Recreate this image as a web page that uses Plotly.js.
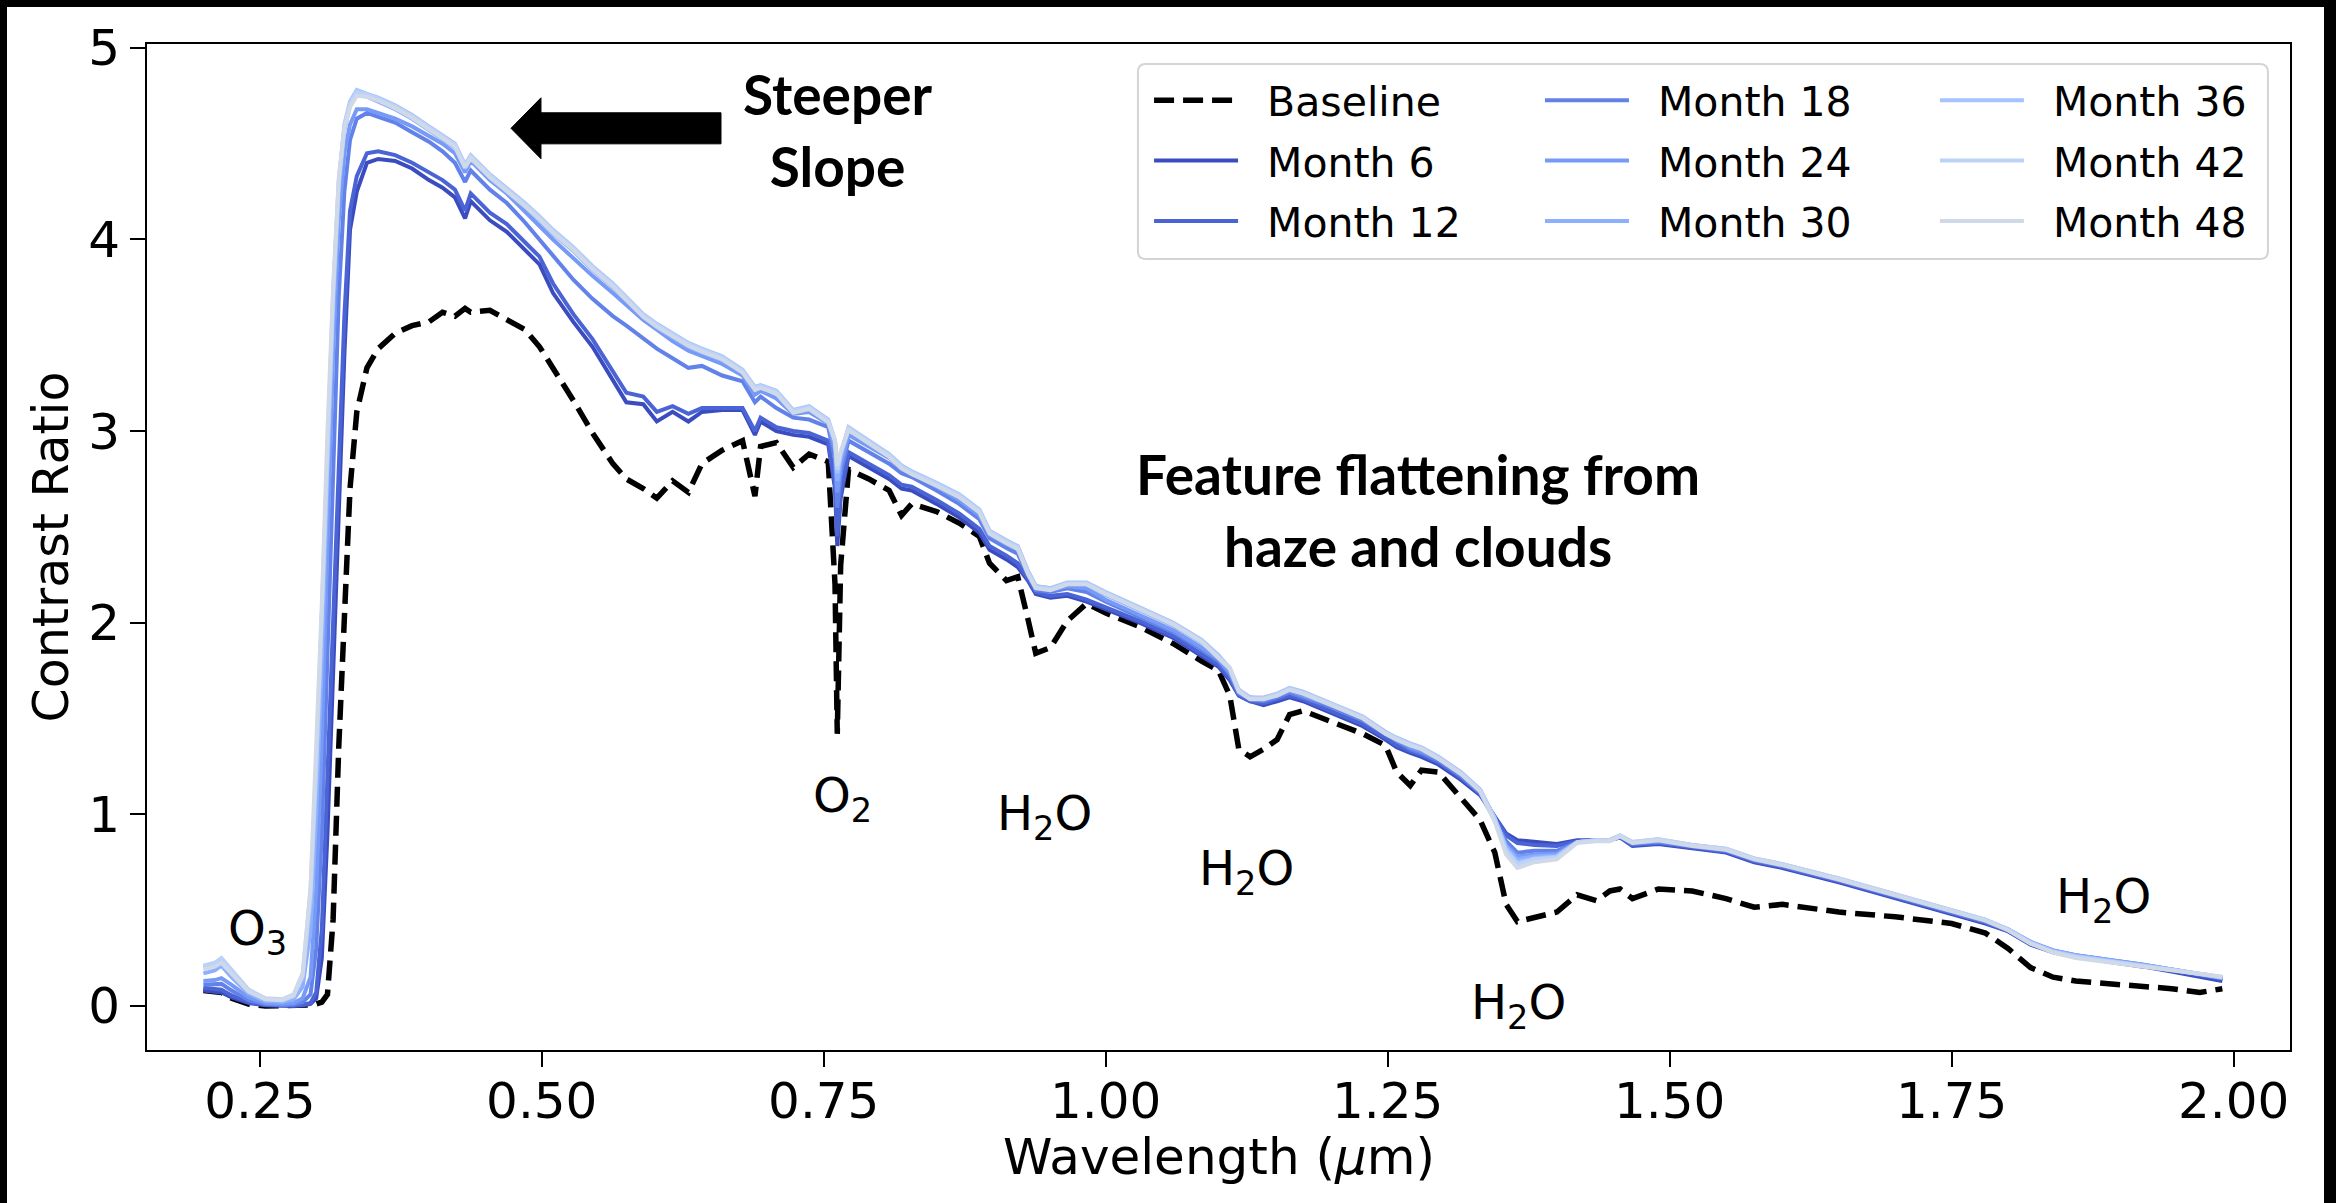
<!DOCTYPE html>
<html>
<head>
<meta charset="utf-8">
<script src="https://cdn.plot.ly/plotly-3.0.1.min.js"></script>
<style>
  html, body { margin: 0; padding: 0; background: #000; width: 2336px; height: 1203px; overflow: hidden; }
  #chart { position: absolute; left: 7px; top: 7px; width: 2317px; height: 1196px; background: #fff; }
  /* wider gap between each legend sample line and its label */
  #chart .legendtext, #chart .legend2text, #chart .legend3text { transform: translateX(24px); }
  #chart .scrollbox { clip-path: none !important; }
</style>
</head>
<body>
<div id="chart"></div>
<script>
// Wavelength grid (micrometres) shared by every spectrum
const wavelength = [
  0.200, 0.210, 0.216, 0.225, 0.240, 0.255, 0.270, 0.280, 0.288, 0.295,
  0.300, 0.305, 0.310, 0.315, 0.320, 0.325, 0.330, 0.336, 0.345, 0.355,
  0.370, 0.385, 0.400, 0.412, 0.423, 0.432, 0.437, 0.454, 0.469, 0.485,
  0.498, 0.510, 0.528, 0.545, 0.563, 0.575, 0.590, 0.602, 0.616, 0.630,
  0.642, 0.660, 0.678, 0.689, 0.694, 0.708, 0.723, 0.737, 0.754, 0.760,
  0.762, 0.765, 0.772, 0.790, 0.808, 0.819, 0.828, 0.850, 0.870, 0.888,
  0.897, 0.912, 0.922, 0.931, 0.938, 0.951, 0.966, 0.983, 1.000, 1.030,
  1.060, 1.085, 1.100, 1.110, 1.118, 1.128, 1.140, 1.152, 1.163, 1.175,
  1.200, 1.228, 1.248, 1.258, 1.270, 1.280, 1.295, 1.315, 1.332, 1.345,
  1.355, 1.365, 1.380, 1.400, 1.418, 1.435, 1.447, 1.456, 1.467, 1.490,
  1.520, 1.550, 1.575, 1.600, 1.650, 1.700, 1.750, 1.780, 1.800, 1.820,
  1.840, 1.860, 1.880, 1.900, 1.920, 1.945, 1.970, 1.990
];

// Contrast ratio, clear-sky baseline
const baseline = [
  0.08, 0.075, 0.07, 0.04, 0.01, 0.0, 0.0, 0.0, 0.0, 0.005,
  0.01, 0.02, 0.06, 0.45, 1.35, 2.1, 2.7, 3.1, 3.33, 3.43,
  3.51, 3.55, 3.57, 3.62, 3.60, 3.64, 3.62, 3.63, 3.58, 3.53,
  3.44, 3.33, 3.16, 2.99, 2.83, 2.75, 2.70, 2.65, 2.74, 2.68,
  2.83, 2.90, 2.95, 2.66, 2.92, 2.94, 2.81, 2.88, 2.84, 2.20,
  1.42, 2.30, 2.80, 2.75, 2.69, 2.56, 2.62, 2.58, 2.52, 2.45,
  2.31, 2.22, 2.24, 2.02, 1.84, 1.87, 2.01, 2.10, 2.05, 1.98,
  1.89, 1.80, 1.75, 1.62, 1.34, 1.30, 1.34, 1.39, 1.52, 1.54,
  1.48, 1.42, 1.36, 1.22, 1.15, 1.23, 1.22, 1.09, 0.97, 0.80,
  0.53, 0.44, 0.46, 0.49, 0.58, 0.55, 0.60, 0.61, 0.56, 0.61,
  0.60, 0.56, 0.515, 0.53, 0.49, 0.465, 0.43, 0.38, 0.30, 0.20,
  0.15, 0.13, 0.12, 0.11, 0.10, 0.09, 0.07, 0.09
];

const month6 = [
  0.08, 0.075, 0.07, 0.045, 0.015, 0.003, 0.0, 0.0, 0.003, 0.01,
  0.04, 0.25, 0.9, 1.7, 2.6, 3.4, 4.05, 4.25, 4.40, 4.42,
  4.41, 4.37, 4.31, 4.27, 4.22, 4.11, 4.20, 4.10, 4.04, 3.95,
  3.87, 3.72, 3.57, 3.44, 3.27, 3.15, 3.14, 3.05, 3.10, 3.05,
  3.10, 3.11, 3.11, 2.98, 3.05, 3.00, 2.98, 2.97, 2.93, 2.70,
  2.40, 2.65, 2.87, 2.81, 2.75, 2.70, 2.69, 2.62, 2.55, 2.47,
  2.38, 2.33, 2.29, 2.22, 2.15, 2.13, 2.14, 2.11, 2.07, 2.00,
  1.92, 1.83, 1.77, 1.70, 1.62, 1.59, 1.57, 1.59, 1.61, 1.59,
  1.53, 1.46, 1.39, 1.35, 1.32, 1.30, 1.26, 1.18, 1.10, 0.99,
  0.90, 0.865, 0.855, 0.845, 0.865, 0.865, 0.865, 0.88, 0.835, 0.845,
  0.82, 0.80, 0.75, 0.72, 0.645, 0.565, 0.48, 0.43, 0.39, 0.32,
  0.28, 0.255, 0.24, 0.22, 0.205, 0.18, 0.155, 0.13
];

const month12 = [
  0.095, 0.09, 0.085, 0.055, 0.02, 0.005, 0.002, 0.002, 0.005, 0.015,
  0.07, 0.4, 1.2, 2.0, 2.9, 3.6, 4.15, 4.33, 4.45, 4.46,
  4.44, 4.40, 4.35, 4.31, 4.26, 4.15, 4.24, 4.14, 4.08, 3.99,
  3.91, 3.77, 3.61, 3.48, 3.31, 3.20, 3.18, 3.10, 3.13, 3.09,
  3.12, 3.12, 3.12, 3.00, 3.07, 3.02, 3.00, 2.99, 2.95, 2.72,
  2.45, 2.68, 2.89, 2.83, 2.77, 2.72, 2.71, 2.64, 2.57, 2.49,
  2.40, 2.35, 2.31, 2.23, 2.16, 2.14, 2.15, 2.12, 2.08, 2.01,
  1.93, 1.84, 1.78, 1.71, 1.62, 1.59, 1.58, 1.60, 1.62, 1.60,
  1.54, 1.47, 1.40, 1.36, 1.33, 1.31, 1.27, 1.19, 1.11, 0.99,
  0.89, 0.85, 0.84, 0.835, 0.86, 0.865, 0.865, 0.88, 0.84, 0.85,
  0.825, 0.805, 0.755, 0.725, 0.65, 0.57, 0.485, 0.435, 0.39, 0.325,
  0.285, 0.26, 0.245, 0.225, 0.21, 0.185, 0.16, 0.14
];

const month18 = [
  0.11, 0.11, 0.115, 0.08, 0.03, 0.01, 0.005, 0.008, 0.02, 0.06,
  0.3, 0.9, 1.8, 2.8, 3.7, 4.25, 4.52, 4.63, 4.66, 4.64,
  4.61, 4.56, 4.51, 4.46, 4.40, 4.30, 4.36, 4.26, 4.19, 4.09,
  4.00, 3.92, 3.79, 3.69, 3.60, 3.55, 3.48, 3.43, 3.38, 3.33,
  3.34, 3.29, 3.26, 3.15, 3.18, 3.12, 3.07, 3.06, 3.02, 2.85,
  2.60, 2.78, 2.95, 2.89, 2.83, 2.78, 2.76, 2.69, 2.62, 2.54,
  2.44, 2.39, 2.36, 2.25, 2.17, 2.16, 2.18, 2.16, 2.11, 2.03,
  1.95, 1.86, 1.80, 1.73, 1.63, 1.60, 1.59, 1.61, 1.635, 1.61,
  1.56, 1.49, 1.42, 1.38, 1.34, 1.32, 1.28, 1.20, 1.11, 0.97,
  0.86, 0.80, 0.81, 0.81, 0.855, 0.865, 0.865, 0.885, 0.845, 0.855,
  0.83, 0.81, 0.76, 0.73, 0.655, 0.575, 0.49, 0.44, 0.395, 0.33,
  0.29, 0.265, 0.25, 0.23, 0.215, 0.19, 0.165, 0.145
];

const month24 = [
  0.13, 0.135, 0.145, 0.11, 0.045, 0.015, 0.01, 0.015, 0.04, 0.15,
  0.6, 1.4, 2.4, 3.4, 4.1, 4.45, 4.60, 4.68, 4.68, 4.66,
  4.63, 4.59, 4.54, 4.50, 4.45, 4.35, 4.41, 4.31, 4.24, 4.15,
  4.07, 4.00, 3.90, 3.81, 3.72, 3.66, 3.58, 3.53, 3.47, 3.42,
  3.39, 3.35, 3.29, 3.19, 3.21, 3.17, 3.09, 3.10, 3.04, 2.90,
  2.68, 2.82, 2.98, 2.92, 2.86, 2.80, 2.78, 2.71, 2.64, 2.56,
  2.46, 2.41, 2.38, 2.26, 2.18, 2.17, 2.19, 2.18, 2.12, 2.04,
  1.96, 1.87, 1.81, 1.74, 1.64, 1.61, 1.60, 1.62, 1.645, 1.62,
  1.57, 1.50, 1.42, 1.39, 1.35, 1.33, 1.29, 1.21, 1.12, 0.97,
  0.84, 0.78, 0.79, 0.795, 0.855, 0.865, 0.865, 0.885, 0.85, 0.86,
  0.835, 0.815, 0.765, 0.735, 0.66, 0.58, 0.495, 0.445, 0.40, 0.335,
  0.29, 0.265, 0.25, 0.23, 0.215, 0.19, 0.165, 0.145
];

const month30 = [
  0.17, 0.185, 0.21, 0.15, 0.065, 0.025, 0.02, 0.035, 0.10, 0.40,
  1.0, 1.8, 2.75, 3.6, 4.25, 4.57, 4.70, 4.76, 4.745, 4.72,
  4.68, 4.63, 4.57, 4.52, 4.48, 4.37, 4.42, 4.32, 4.25, 4.17,
  4.10, 4.03, 3.94, 3.84, 3.75, 3.68, 3.60, 3.54, 3.49, 3.44,
  3.41, 3.37, 3.31, 3.22, 3.23, 3.20, 3.10, 3.12, 3.05, 2.93,
  2.74, 2.86, 3.01, 2.94, 2.87, 2.815, 2.785, 2.725, 2.66, 2.58,
  2.475, 2.425, 2.395, 2.27, 2.19, 2.18, 2.20, 2.20, 2.145, 2.065,
  1.985, 1.895, 1.825, 1.76, 1.645, 1.61, 1.605, 1.625, 1.655, 1.635,
  1.575, 1.505, 1.43, 1.395, 1.365, 1.345, 1.295, 1.215, 1.125, 0.975,
  0.83, 0.765, 0.78, 0.785, 0.855, 0.865, 0.865, 0.888, 0.853, 0.866,
  0.838, 0.818, 0.768, 0.738, 0.663, 0.583, 0.498, 0.448, 0.40, 0.332,
  0.287, 0.262, 0.247, 0.227, 0.212, 0.19, 0.168, 0.148
];

const month36 = [
  0.20, 0.22, 0.245, 0.18, 0.08, 0.035, 0.03, 0.05, 0.15, 0.55,
  1.2, 2.0, 2.9, 3.7, 4.3, 4.6, 4.72, 4.78, 4.76, 4.74,
  4.70, 4.65, 4.59, 4.54, 4.50, 4.39, 4.44, 4.34, 4.27, 4.19,
  4.12, 4.05, 3.96, 3.86, 3.77, 3.70, 3.61, 3.56, 3.51, 3.46,
  3.43, 3.39, 3.32, 3.23, 3.24, 3.21, 3.11, 3.13, 3.06, 2.95,
  2.78, 2.88, 3.02, 2.95, 2.88, 2.82, 2.79, 2.73, 2.67, 2.59,
  2.48, 2.43, 2.40, 2.27, 2.19, 2.18, 2.21, 2.21, 2.16, 2.08,
  2.00, 1.91, 1.83, 1.76, 1.65, 1.61, 1.61, 1.63, 1.66, 1.64,
  1.58, 1.51, 1.43, 1.40, 1.37, 1.35, 1.30, 1.22, 1.13, 0.98,
  0.82, 0.75, 0.77, 0.78, 0.855, 0.865, 0.865, 0.89, 0.855, 0.87,
  0.84, 0.82, 0.77, 0.74, 0.665, 0.585, 0.50, 0.45, 0.40, 0.33,
  0.285, 0.26, 0.245, 0.225, 0.21, 0.19, 0.17, 0.15
];

const month42 = [
  0.21, 0.225, 0.25, 0.19, 0.085, 0.04, 0.035, 0.06, 0.17, 0.6,
  1.25, 2.05, 2.95, 3.72, 4.30, 4.59, 4.71, 4.77, 4.755, 4.735,
  4.695, 4.645, 4.585, 4.535, 4.495, 4.385, 4.435, 4.335, 4.265, 4.185,
  4.115, 4.045, 3.955, 3.855, 3.765, 3.695, 3.605, 3.555, 3.505, 3.455,
  3.425, 3.385, 3.315, 3.225, 3.235, 3.205, 3.105, 3.125, 3.055, 2.95,
  2.80, 2.89, 3.015, 2.945, 2.875, 2.815, 2.785, 2.725, 2.665, 2.585,
  2.475, 2.425, 2.395, 2.265, 2.185, 2.175, 2.205, 2.205, 2.155, 2.075,
  1.995, 1.905, 1.825, 1.765, 1.645, 1.605, 1.605, 1.625, 1.655, 1.635,
  1.575, 1.505, 1.425, 1.395, 1.365, 1.345, 1.295, 1.215, 1.125, 0.97,
  0.81, 0.74, 0.765, 0.775, 0.855, 0.865, 0.865, 0.89, 0.855, 0.87,
  0.84, 0.82, 0.77, 0.74, 0.665, 0.585, 0.50, 0.45, 0.398, 0.328,
  0.282, 0.257, 0.242, 0.222, 0.208, 0.188, 0.168, 0.15
];

const month48 = [
  0.19, 0.205, 0.225, 0.17, 0.075, 0.035, 0.03, 0.055, 0.16, 0.62,
  1.3, 2.1, 3.0, 3.75, 4.32, 4.58, 4.69, 4.75, 4.745, 4.725,
  4.685, 4.635, 4.575, 4.525, 4.485, 4.375, 4.425, 4.325, 4.255, 4.175,
  4.105, 4.035, 3.945, 3.845, 3.755, 3.685, 3.595, 3.545, 3.495, 3.445,
  3.415, 3.375, 3.305, 3.215, 3.225, 3.195, 3.095, 3.115, 3.045, 2.95,
  2.82, 2.89, 3.005, 2.935, 2.865, 2.805, 2.775, 2.715, 2.655, 2.575,
  2.465, 2.415, 2.385, 2.255, 2.18, 2.17, 2.20, 2.20, 2.15, 2.07,
  1.99, 1.90, 1.82, 1.76, 1.64, 1.60, 1.60, 1.62, 1.65, 1.63,
  1.57, 1.50, 1.42, 1.39, 1.36, 1.34, 1.29, 1.21, 1.12, 0.96,
  0.79, 0.72, 0.75, 0.765, 0.85, 0.86, 0.86, 0.885, 0.85, 0.865,
  0.835, 0.815, 0.765, 0.735, 0.66, 0.58, 0.495, 0.445, 0.395, 0.325,
  0.278, 0.25, 0.235, 0.218, 0.205, 0.187, 0.168, 0.152
];

const monthLabels = ['Month 6', 'Month 12', 'Month 18', 'Month 24', 'Month 30', 'Month 36', 'Month 42', 'Month 48'];
const monthSeries = [month6, month12, month18, month24, month30, month36, month42, month48];

const xTickVals = [0.25, 0.50, 0.75, 1.00, 1.25, 1.50, 1.75, 2.00];
const xTickText = ['0.25', '0.50', '0.75', '1.00', '1.25', '1.50', '1.75', '2.00'];
const yTickVals = [0, 1, 2, 3, 4, 5];
const yTickText = ['0', '1', '2', '3', '4', '5'];

// Absorber labels
const featureLabels = ['O<sub>3</sub>', 'O<sub>2</sub>', 'H<sub>2</sub>O', 'H<sub>2</sub>O', 'H<sub>2</sub>O', 'H<sub>2</sub>O'];

// ---- styling ----
const monthColors = ['#3b4cc0', '#4b64d5', '#6282ea', '#779af7', '#8db0fe', '#a5c3fe', '#bcd2f8', '#d0d9e8'];
const monthLegends = ['legend', 'legend', 'legend2', 'legend2', 'legend2', 'legend3', 'legend3', 'legend3'];
const featureAnchors = [
  { x: 0.248, y: 0.39 }, { x: 0.767, y: 1.08 }, { x: 0.946, y: 0.99 },
  { x: 1.125, y: 0.70 }, { x: 1.366, y: 0.0 }, { x: 1.885, y: 0.555 }
];

const traces = [{
  x: wavelength, y: baseline, name: 'Baseline', type: 'scatter', mode: 'lines',
  line: { color: '#000', width: 5.5, dash: '20px,9px' }, legend: 'legend', legendgroup: 'Baseline'
}];
monthSeries.forEach((vals, i) => {
  traces.push({
    x: wavelength, y: vals, name: monthLabels[i], type: 'scatter', mode: 'lines',
    line: { color: monthColors[i], width: 4 }, legend: monthLegends[i], legendgroup: monthLabels[i]
  });
});

const legendCommon = {
  orientation: 'v', xanchor: 'left', yanchor: 'top', y: 0.977,
  bgcolor: 'rgba(0,0,0,0)', borderwidth: 0, itemwidth: 84, tracegroupgap: 4,
  font: { family: 'DejaVu Sans', size: 41, color: '#000' }
};

// Rounded legend frame in paper coordinates
const fx0 = 0.4624, fx1 = 0.9897, fy0 = 0.7863, fy1 = 0.9801, rx = 0.0037, ry = 0.0079;
const framePath = `M${fx0 + rx},${fy1} L${fx1 - rx},${fy1} Q${fx1},${fy1} ${fx1},${fy1 - ry} ` +
  `L${fx1},${fy0 + ry} Q${fx1},${fy0} ${fx1 - rx},${fy0} L${fx0 + rx},${fy0} ` +
  `Q${fx0},${fy0} ${fx0},${fy0 + ry} L${fx0},${fy1 - ry} Q${fx0},${fy1} ${fx0 + rx},${fy1} Z`;

// Block arrow pointing toward short wavelengths
const arrow = { tail: 0.6589, neck: 0.4993, tip: 0.4727, yc: 4.580, shaft: 0.081, head: 0.159 };
const arrowPath = `M${arrow.tail},${arrow.yc + arrow.shaft} L${arrow.neck},${arrow.yc + arrow.shaft} ` +
  `L${arrow.neck},${arrow.yc + arrow.head} L${arrow.tip},${arrow.yc} L${arrow.neck},${arrow.yc - arrow.head} ` +
  `L${arrow.neck},${arrow.yc - arrow.shaft} L${arrow.tail},${arrow.yc - arrow.shaft} Z`;

const boldFont = { family: 'Lato', size: 55, color: '#000', weight: 700 };
const annotations = featureLabels.map((t, i) => ({
  text: t, x: featureAnchors[i].x, y: featureAnchors[i].y, xref: 'x', yref: 'y',
  showarrow: false, xanchor: 'center', yanchor: 'middle',
  font: { family: 'DejaVu Sans', size: 48, color: '#000' }
}));
annotations.push({
  text: 'Steeper<br>Slope', x: 0.7626, y: 4.572, xref: 'x', yref: 'y', showarrow: false,
  xanchor: 'center', yanchor: 'middle', align: 'center', font: boldFont
});
annotations.push({
  text: 'Feature flattening from<br>haze and clouds', x: 1.277, y: 2.589, xref: 'x', yref: 'y',
  showarrow: false, xanchor: 'center', yanchor: 'middle', align: 'center', font: boldFont
});
// x-axis title, placed just under the tick labels
annotations.push({
  text: 'Wavelength (<i>μ</i>m)', x: 0.5, y: -0.106, xref: 'paper', yref: 'paper', showarrow: false,
  xanchor: 'center', yanchor: 'middle', font: { family: 'DejaVu Sans', size: 50, color: '#000' }
});

const axisCommon = {
  ticks: 'outside', ticklen: 15, tickwidth: 2, tickcolor: '#000',
  showline: true, linewidth: 2, linecolor: '#000', mirror: true,
  showgrid: false, zeroline: false, automargin: false,
  tickfont: { family: 'DejaVu Sans', size: 50, color: '#000' }
};

const layout = {
  width: 2317, height: 1196,
  margin: { l: 140, r: 34, t: 37, b: 153, pad: 0 },
  paper_bgcolor: '#fff', plot_bgcolor: '#fff',
  font: { family: 'DejaVu Sans', color: '#000' },
  showlegend: true,
  xaxis: Object.assign({}, axisCommon, {
    range: [0.15, 2.05], tickmode: 'array', tickvals: xTickVals, ticktext: xTickText,
    ticklabelstandoff: -9
  }),
  yaxis: Object.assign({}, axisCommon, {
    range: [-0.23, 5.02], tickmode: 'array', tickvals: yTickVals, ticktext: yTickText,
    title: { text: 'Contrast Ratio', font: { family: 'DejaVu Sans', size: 49, color: '#000' }, standoff: 4 }
  }),
  legend: Object.assign({}, legendCommon, { x: 0.4676 }),
  legend2: Object.assign({}, legendCommon, { x: 0.650 }),
  legend3: Object.assign({}, legendCommon, { x: 0.8343 }),
  shapes: [
    { type: 'path', xref: 'paper', yref: 'paper', path: framePath, layer: 'below',
      fillcolor: 'rgba(255,255,255,0.8)', line: { color: '#d4d4d4', width: 2 } },
    { type: 'path', xref: 'x', yref: 'y', path: arrowPath, layer: 'above',
      fillcolor: '#000', line: { color: '#000', width: 1 } }
  ],
  annotations: annotations
};

Plotly.newPlot('chart', traces, layout, { staticPlot: true, displayModeBar: false });
</script>
</body>
</html>
